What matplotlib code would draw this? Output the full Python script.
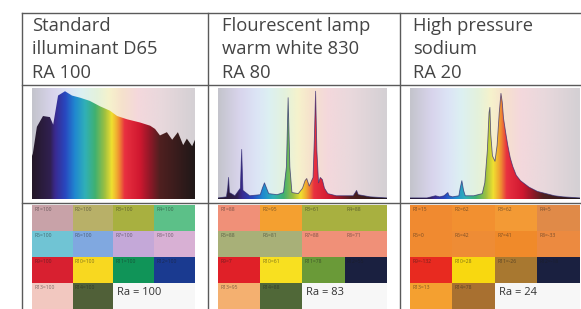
import matplotlib.pyplot as plt
import matplotlib.patches as mp
from matplotlib.colors import LinearSegmentedColormap, to_rgb
from matplotlib.lines import Line2D
import numpy as np

plt.rcParams["font.family"] = ["Open Sans", "DejaVu Sans"]

W, H = 581, 309
INK = "#444444"
RULE = "#5a5a5a"

# header texts
TITLES = [
    ["Standard", "illuminant D65", "RA 100"],
    ["Flourescent lamp", "warm white 830", "RA 80"],
    ["High pressure", "sodium", "RA 20"],
]
RA = [100, 83, 24]

# spectra: wavelength (nm) and relative power
D65_WL = [380, 382, 392, 407, 424, 432, 444, 461, 478, 498, 522, 547, 571, 589,
          613, 645, 670, 682, 694, 711, 724, 738, 751, 760, 773, 780]
D65_P = [0.40, 0.42, 0.67, 0.77, 0.76, 0.69, 0.96, 1.00, 0.96, 0.94, 0.91, 0.86,
         0.82, 0.77, 0.74, 0.71, 0.68, 0.65, 0.59, 0.62, 0.55, 0.62, 0.50, 0.56,
         0.49, 0.55]

FL_WL = [380, 400, 403, 405, 407, 420, 433, 436, 439, 455, 480, 485, 490, 495,
         500, 520, 535, 542, 546, 550, 555, 570, 580, 586, 590, 596, 605, 608,
         611, 614, 618, 622, 627, 632, 640, 660, 700, 705, 708, 712, 740, 780]
FL_P = [0.01, 0.02, 0.10, 0.20, 0.06, 0.03, 0.10, 0.46, 0.08, 0.03, 0.04, 0.10,
        0.15, 0.10, 0.05, 0.04, 0.06, 0.30, 0.94, 0.30, 0.06, 0.05, 0.10, 0.17,
        0.19, 0.12, 0.20, 0.55, 1.00, 0.45, 0.15, 0.20, 0.18, 0.10, 0.05, 0.03,
        0.03, 0.06, 0.08, 0.04, 0.02, 0.01]

HPS_WL = [380, 420, 430, 440, 450, 460, 466, 469, 472, 480, 495, 498, 502, 506,
          510, 530, 550, 556, 562, 566, 568, 570, 574, 580, 585, 590, 594, 597,
          600, 605, 610, 616, 622, 630, 640, 660, 680, 700, 720, 740, 780]
HPS_P = [0.01, 0.01, 0.02, 0.03, 0.02, 0.03, 0.05, 0.06, 0.03, 0.02, 0.03, 0.10,
         0.17, 0.08, 0.03, 0.03, 0.05, 0.15, 0.45, 0.80, 0.85, 0.60, 0.40, 0.35,
         0.50, 0.80, 0.98, 0.90, 0.75, 0.62, 0.50, 0.38, 0.30, 0.22, 0.17, 0.11,
         0.07, 0.05, 0.03, 0.02, 0.01]

# test colour samples R1..R14
D65_COL = ["#c8a2a8", "#b8b068", "#a8b040", "#5cc088",
           "#70c4d4", "#80a8e0", "#c4a8d8", "#d8b0d4",
           "#d82030", "#f8d820", "#109458", "#1a3a90",
           "#f2c8c0", "#506038"]
FL_COL = ["#f09078", "#f4a030", "#a8b040", "#a8b040",
          "#a8b078", "#a8b078", "#f09078", "#f09078",
          "#e02028", "#f8e020", "#6a9a38", "#1a2040",
          "#f4b070", "#506838"]
HPS_COL = ["#f08a30", "#f29030", "#f39a35", "#e08a48",
           "#f08a30", "#ee8c35", "#f08a2a", "#ec8a40",
           "#e82a20", "#f8d810", "#a87830", "#1a2040",
           "#f4a030", "#a87030"]
D65_R = [100] * 14
FL_R = [88, 95, 61, 88, 88, 81, 88, 71, 7, 61, 78, 55, 95, 88]
HPS_R = [15, 62, 62, 5, 0, 42, 41, -33, -132, 28, -26, -18, 13, 78]

# wavelength colour scale
SPEC_STOPS = [(380, "#241828"), (424, "#302050"), (436, "#3a2a90"), (461, "#2848c0"),
              (485, "#2088d0"), (510, "#30b0b8"), (535, "#40b070"), (559, "#a0c040"),
              (576, "#f0e030"), (591, "#f0a030"), (608, "#e83040"), (645, "#d01830"),
              (670, "#901828"), (694, "#502020"), (780, "#201818")]
BG_STOPS = [(380, "#c4c4cc"), (430, "#d8d4ec"), (470, "#dce4f6"), (500, "#dcf0f2"),
            (540, "#e4f2dc"), (570, "#f6f2cc"), (600, "#f6e2cc"), (640, "#f4d8dc"),
            (700, "#e8d8dc"), (780, "#d4d0d4")]
SPEC_CMAP = LinearSegmentedColormap.from_list(
    "spec", [((w - 380) / 400, c) for w, c in SPEC_STOPS])
BG_CMAP = LinearSegmentedColormap.from_list(
    "bg", [((w - 380) / 400, c) for w, c in BG_STOPS])

fig = plt.figure(figsize=(W / 100, H / 100), dpi=100)


def fx(px):
    return px / W


def fy(py):
    return 1 - py / H


def draw_spectrum(ax, wl, p, outline):
    ax.set_xlim(380, 780)
    ax.set_ylim(0, 1.03)
    ax.axis("off")
    grad = np.linspace(0, 1, 400)[None, :]
    ax.imshow(grad, cmap=BG_CMAP, aspect="auto", extent=(380, 780, 0, 1.03))
    im = ax.imshow(grad, cmap=SPEC_CMAP, aspect="auto", extent=(380, 780, 0, 1.03))
    verts = np.column_stack([np.r_[wl[0], wl, wl[-1]], np.r_[0, p, 0]])
    poly = mp.Polygon(verts, closed=True, facecolor="none", edgecolor="none")
    ax.add_patch(poly)
    im.set_clip_path(poly)
    if outline:
        ax.plot(wl, p, color="#2b2470", lw=0.6, alpha=0.7)


def draw_swatches(ax, colors, values, ra):
    img = np.ones((4, 4, 3)) * 0.97
    for i, c in enumerate(colors):
        img[i // 4, i % 4] = to_rgb(c)
    ax.imshow(img, extent=(0, 4, 4, 0), interpolation="nearest", aspect="auto")
    ax.set_xlim(0, 4)
    ax.set_ylim(4, 0)
    ax.axis("off")
    for i, v in enumerate(values):
        ax.text(i % 4 + 0.05, i // 4 + 0.17, f"R{i+1}={v}", fontsize=3.6,
                color="#1c1c1c", alpha=0.55, va="center", ha="left")
    ax.text(2.09, 3.46, f"Ra = {ra}", fontsize=8, color="#333333", va="baseline")


# column geometry (pixels)
cols = [(32, 195, 32), (218, 387, 222), (410, 580, 413)]
spectra = [(D65_WL, D65_P, False), (FL_WL, FL_P, True), (HPS_WL, HPS_P, True)]
swatches = [(D65_COL, D65_R), (FL_COL, FL_R), (HPS_COL, HPS_R)]

for k, (x0, x1, tx) in enumerate(cols):
    ax_s = fig.add_axes([fx(x0), fy(199), fx(x1 - x0), (199 - 88) / H])
    draw_spectrum(ax_s, np.array(spectra[k][0]), np.array(spectra[k][1]), spectra[k][2])
    ax_c = fig.add_axes([fx(x0), 0, fx(x1 - x0), (309 - 205) / H])
    draw_swatches(ax_c, swatches[k][0], swatches[k][1], RA[k])
    for j, line in enumerate(TITLES[k]):
        fig.text(fx(tx), fy(31 + 23.5 * j), line, fontsize=13.2, color=INK, va="baseline")

# table rules
for y in [13, 85, 203]:
    fig.add_artist(Line2D([fx(22), 1], [fy(y), fy(y)], color=RULE, lw=1))
for x in [22, 208, 400]:
    fig.add_artist(Line2D([fx(x), fx(x)], [fy(13), 0], color=RULE, lw=1))

fig.savefig("out.png", dpi=100, facecolor="white")
